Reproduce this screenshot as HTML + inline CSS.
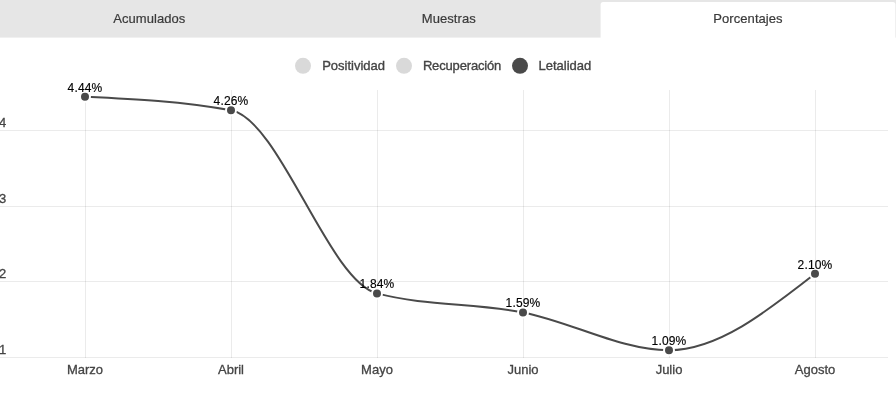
<!DOCTYPE html>
<html><head><meta charset="utf-8"><style>
html,body{margin:0;padding:0;background:#fff;}
body{width:896px;height:405px;overflow:hidden;position:relative;font-family:"Liberation Sans",sans-serif;}
svg{position:absolute;left:0;top:0;}
text{font-family:"Liberation Sans",sans-serif;}
.tab{font-size:13px;fill:#3a3a3a;stroke:#3a3a3a;stroke-width:0.2px;letter-spacing:0.06px;}
.lg{font-size:13px;fill:#444;stroke:#444;stroke-width:0.35px;}
.ax{font-size:13px;fill:#444;stroke:#444;stroke-width:0.3px;}
.vl{font-size:12px;fill:#000;stroke:#000;stroke-width:0.15px;letter-spacing:0.15px;}
</style></head><body>
<svg width="896" height="405" viewBox="0 0 896 405">
<rect x="0" y="0" width="896" height="37.6" fill="#e6e6e6"/>
<path d="M600.6,42 V4.5 a2.5,2.5 0 0 1 2.5,-2.5 H892.9 a2.5,2.5 0 0 1 2.5,2.5 V42 Z" fill="#fff"/>
<text x="149.3" y="23" class="tab" text-anchor="middle">Acumulados</text>
<text x="448.8" y="23" class="tab" text-anchor="middle">Muestras</text>
<text x="748" y="23" class="tab" text-anchor="middle">Porcentajes</text>
<circle cx="303" cy="65.8" r="8" fill="#d9d9d9"/>
<text x="322.2" y="70" class="lg">Positividad</text>
<circle cx="404" cy="65.8" r="8" fill="#d9d9d9"/>
<text x="422.9" y="70" class="lg" textLength="78.4" lengthAdjust="spacing">Recuperación</text>
<circle cx="520" cy="65.8" r="8" fill="#4a4a4a"/>
<text x="538.5" y="70" class="lg">Letalidad</text>
<rect x="0" y="130" width="888" height="1" fill="#000" fill-opacity="0.08"/><rect x="0" y="206" width="888" height="1" fill="#000" fill-opacity="0.08"/><rect x="0" y="281" width="888" height="1" fill="#000" fill-opacity="0.08"/><rect x="0" y="357" width="888" height="1" fill="#000" fill-opacity="0.08"/><rect x="85" y="90" width="1" height="268" fill="#000" fill-opacity="0.08"/><rect x="231" y="90" width="1" height="268" fill="#000" fill-opacity="0.08"/><rect x="377" y="90" width="1" height="268" fill="#000" fill-opacity="0.08"/><rect x="523" y="90" width="1" height="268" fill="#000" fill-opacity="0.08"/><rect x="669" y="90" width="1" height="268" fill="#000" fill-opacity="0.08"/><rect x="815" y="90" width="1" height="268" fill="#000" fill-opacity="0.08"/><text x="-1" y="126.7" class="ax">4</text><text x="-1" y="202.7" class="ax">3</text><text x="-1" y="277.7" class="ax">2</text><text x="-1" y="353.7" class="ax">1</text><text x="85" y="374" class="ax" text-anchor="middle">Marzo</text><text x="231" y="374" class="ax" text-anchor="middle">Abril</text><text x="377" y="374" class="ax" text-anchor="middle">Mayo</text><text x="523" y="374" class="ax" text-anchor="middle">Junio</text><text x="669" y="374" class="ax" text-anchor="middle">Julio</text><text x="815" y="374" class="ax" text-anchor="middle">Agosto</text><path d="M85.00,96.70 C133.67,98.97 182.33,101.23 231.00,110.30 C279.67,119.37 328.33,280.73 377.00,293.40 C425.67,306.07 474.33,302.93 523.00,312.40 C571.67,321.87 620.33,350.20 669.00,350.20 C717.67,350.20 766.33,312.00 815.00,273.80" fill="none" stroke="#4a4a4a" stroke-width="2"/><circle cx="85.0" cy="96.7" r="5" fill="#4a4a4a" stroke="#fff" stroke-width="2"/><text x="85.0" y="91.7" class="vl" text-anchor="middle">4.44%</text><circle cx="231.0" cy="110.3" r="5" fill="#4a4a4a" stroke="#fff" stroke-width="2"/><text x="231.0" y="105.3" class="vl" text-anchor="middle">4.26%</text><circle cx="377.0" cy="293.4" r="5" fill="#4a4a4a" stroke="#fff" stroke-width="2"/><text x="377.0" y="288.4" class="vl" text-anchor="middle">1.84%</text><circle cx="523.0" cy="312.4" r="5" fill="#4a4a4a" stroke="#fff" stroke-width="2"/><text x="523.0" y="307.4" class="vl" text-anchor="middle">1.59%</text><circle cx="669.0" cy="350.2" r="5" fill="#4a4a4a" stroke="#fff" stroke-width="2"/><text x="669.0" y="345.2" class="vl" text-anchor="middle">1.09%</text><circle cx="815.0" cy="273.8" r="5" fill="#4a4a4a" stroke="#fff" stroke-width="2"/><text x="815.0" y="268.8" class="vl" text-anchor="middle">2.10%</text>
</svg>
</body></html>
